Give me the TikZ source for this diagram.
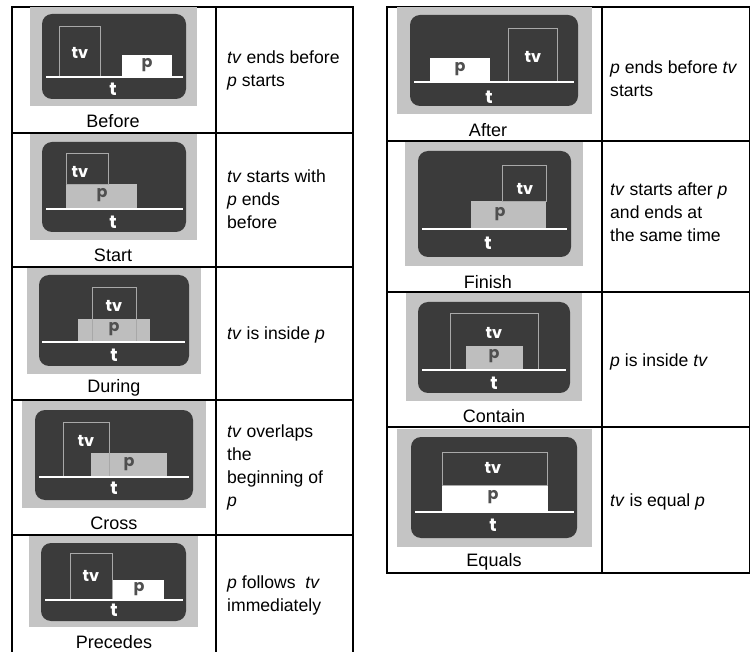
\documentclass[tikz,border=0pt]{standalone}
\usepackage{fontspec}
\setmainfont{Liberation Sans}
\newfontfamily\iconfont{Poppins}
\definecolor{iconbg}{HTML}{C4C4C4}
\definecolor{screen}{HTML}{3B3B3B}
\definecolor{pgray}{HTML}{BEBEBE}
\definecolor{tvline}{HTML}{A8A8A8}
\definecolor{plabel}{HTML}{505050}
\tikzset{% This is the style settings for icons and cells
    bg/.style={fill=iconbg},
    scr/.style={fill=screen, rounded corners=10pt},
    tvbox/.style={draw=tvline, line width=0.6pt},
    pw/.style={fill=white},
    pg/.style={fill=pgray},
    axis/.style={draw=white, line width=2pt},
    lab/.style={font=\iconfont\bfseries\fontsize{16}{16}\selectfont, text=white, inner sep=0},
    plab/.style={lab, text=plabel},
    tlab/.style={lab, font=\iconfont\bfseries\fontsize{18}{18}\selectfont},
    capt/.style={font=\fontsize{18}{20}\selectfont, inner sep=0},
    desc/.style={anchor=west, align=left, inner sep=0, font=\fontsize{17.6}{23}\selectfont},
    grid/.style={line width=1.2pt}}

\begin{document}
\begin{tikzpicture}[x=1pt, y=-1pt]
  \useasboundingbox (0,0) rectangle (750,652);

  % left table
  \draw[grid] (12,652) -- (12,7) -- (353,7) -- (353,652);
  \draw[grid] (216,7) -- (216,652);
  \foreach \y in {133,267,400,535}
    \draw[grid] (12,\y) -- (353,\y);

  % right table
  \draw[grid] (387,573) -- (387,7) -- (749.4,7) -- (749.4,573) -- cycle;
  \draw[grid] (602,7) -- (602,573);
  \foreach \y in {141,292,427}
    \draw[grid] (387,\y) -- (749.4,\y);

  % Before
  \fill[bg] (30,7) rectangle (197,106);
  \fill[scr] (42,14) rectangle (186,99);
  \fill[pw] (122,55) rectangle (172,77);
  \draw[tvbox] (59,77) rectangle (100,26);
  \draw[axis] (46,77) -- (183,77);
  \node[lab] (tv1) at (80,53) {tv};
  \node[plab] (p1) at (147,65) {p};
  \node[tlab] (t1) at (113,89) {t};
  \node[capt] (cap1) at (113,121) {Before};
  \node[desc] (txt1) at (227,70.5) {\textit{tv} ends before\\\textit{p} starts};

  % Start
  \fill[bg] (30,134) rectangle (197,240);
  \fill[scr] (42,142) rectangle (186,232);
  \fill[pg] (66,184) rectangle (137,209);
  \draw[tvbox] (66,184) rectangle (108,153);
  \draw[axis] (46,209) -- (183,209);
  \node[lab] (tv2) at (80,172) {tv};
  \node[plab] (p2) at (102,195) {p};
  \node[tlab] (t2) at (113,222) {t};
  \node[capt] (cap2) at (113,255) {Start};
  \node[desc] (txt2) at (227,199.5) {\textit{tv} starts with\\\textit{p} ends\\before};

  % During
  \fill[bg] (27,268) rectangle (201,374);
  \fill[scr] (39,275) rectangle (189,366);
  \fill[pg] (78,319) rectangle (150,342);
  \draw[tvbox] (92,342) rectangle (136,287);
  \draw[axis] (42,342) -- (185,342);
  \node[lab] (tv3) at (114,306) {tv};
  \node[plab] (p3) at (114,329) {p};
  \node[tlab] (t3) at (114,355) {t};
  \node[capt] (cap3) at (114,388) {During};
  \node[desc] (txt3) at (227,335) {\textit{tv} is inside \textit{p}};

  % Cross
  \fill[bg] (22,401) rectangle (206,508);
  \fill[scr] (35,410) rectangle (193,500);
  \fill[pg] (91,453) rectangle (167,477);
  \draw[tvbox] (63,477) rectangle (109,422);
  \draw[axis] (39,477) -- (189,477);
  \node[lab] (tv4) at (86,441) {tv};
  \node[plab] (p4) at (129,464) {p};
  \node[tlab] (t4) at (114,488) {t};
  \node[capt] (cap4) at (114,523) {Cross};
  \node[desc] (txt4) at (227,467.5) {\textit{tv} overlaps\\the\\beginning of\\\textit{p}};

  % Precedes
  \fill[bg] (29,536) rectangle (198,627);
  \fill[scr] (41,543) rectangle (186,621);
  \fill[pw] (112,580) rectangle (164,600);
  \draw[tvbox] (70,600) rectangle (112,553);
  \draw[axis] (45,600) -- (183,600);
  \node[lab] (tv5) at (91,576) {tv};
  \node[plab] (p5) at (139,589) {p};
  \node[tlab] (t5) at (114,610) {t};
  \node[capt] (cap5) at (114,642) {Precedes};
  \node[desc] (txt5) at (227,595) {\textit{p} follows\ \ \textit{tv}\\immediately};

  % After
  \fill[bg] (397,7) rectangle (592,114);
  \fill[scr] (410,15) rectangle (578,106);
  \fill[pw] (430,58) rectangle (490,82);
  \draw[tvbox] (508,82) rectangle (557,28);
  \draw[axis] (414,82) -- (574,82);
  \node[lab] (tv6) at (533,57) {tv};
  \node[plab] (p6) at (460,69) {p};
  \node[tlab] (t6) at (489,97) {t};
  \node[capt] (cap6) at (488,130) {After};
  \node[desc] (txt6) at (610,79) {\textit{p} ends before \textit{tv}\\starts};

  % Finish
  \fill[bg] (405,142) rectangle (583,266);
  \fill[scr] (418,151) rectangle (571,257);
  \fill[pg] (471,201) rectangle (546,229);
  \draw[tvbox] (502,201) rectangle (546,165);
  \draw[axis] (422,229) -- (567,229);
  \node[lab] (tv7) at (525,189) {tv};
  \node[plab] (p7) at (500,214) {p};
  \node[tlab] (t7) at (488,243) {t};
  \node[capt] (cap7) at (488,282) {Finish};
  \node[desc] (txt7) at (610,212.5) {\textit{tv} starts after \textit{p}\\and ends at\\the same time};

  % Contain
  \fill[bg] (406,293) rectangle (582,401);
  \fill[scr] (418,302) rectangle (570,393);
  \fill[pg] (466,346) rectangle (523,370);
  \draw[tvbox] (450,370) rectangle (538,313);
  \draw[axis] (422,370) -- (566,370);
  \node[lab] (tv8) at (494,333) {tv};
  \node[plab] (p8) at (494,356) {p};
  \node[tlab] (t8) at (494,383) {t};
  \node[capt] (cap8) at (494,416) {Contain};
  \node[desc] (txt8) at (610,362) {\textit{p} is inside \textit{tv}};

  % Equals
  \fill[bg] (397,429) rectangle (592,547);
  \fill[scr] (411,437) rectangle (577,538);
  \fill[pw] (442,485) rectangle (548,512);
  \draw[tvbox] (442,485) rectangle (547,452);
  \draw[axis] (415,512) -- (574,512);
  \node[lab] (tv9) at (493,468) {tv};
  \node[plab] (p9) at (493,497) {p};
  \node[tlab] (t9) at (493,525) {t};
  \node[capt] (cap9) at (494,562) {Equals};
  \node[desc] (txt9) at (610,502) {\textit{tv} is equal \textit{p}};
\end{tikzpicture}
\end{document}
